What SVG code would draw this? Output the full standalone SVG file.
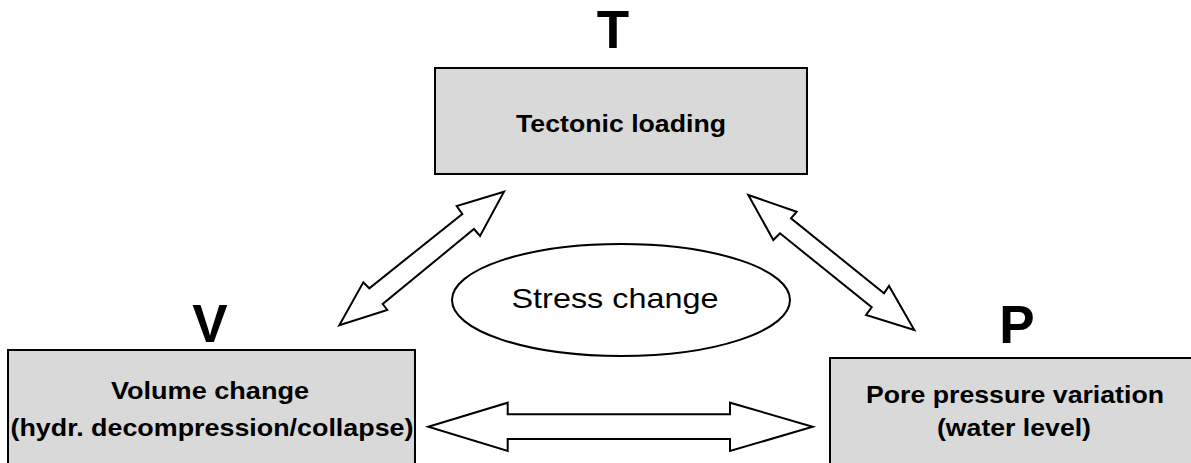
<svg xmlns="http://www.w3.org/2000/svg" width="1191" height="463" viewBox="0 0 1191 463">
<style>
.box{fill:#d9d9d9;stroke:#000;stroke-width:2}
.arr{fill:#fff;stroke:#000;stroke-width:2;stroke-linejoin:miter}
.lbl{font-family:"Liberation Sans",Arial,sans-serif;font-weight:bold;font-size:24px;fill:#000;text-anchor:middle}
.big{font-family:"Liberation Sans",Arial,sans-serif;font-weight:bold;font-size:53px;fill:#000;text-anchor:middle}
.reg{font-family:"Liberation Sans",Arial,sans-serif;font-size:28px;fill:#000;text-anchor:middle}
</style>
<rect width="1191" height="463" fill="#fff"/>
<g id="connectors">
<polygon class="arr" points="504,191.7 456.7,206 462.3,214 369.3,288.3 363.3,282.3 339.3,325.3 387.3,310 382.7,304 474,229 480,236"/>
<polygon class="arr" points="748.3,195 796.7,211.7 791,218.3 884,293.3 889,286 914.3,330 866,315 871.7,307.3 780,233.3 773.3,240"/>
<polygon class="arr" points="428.3,426.7 507.7,402.7 507.7,414.3 730,414.3 730,402.7 812.7,426.7 730,451 730,439 507.7,439 507.7,451"/>
</g>
<g id="node-T">
<text class="big" x="613" y="48">T</text>
<rect class="box" x="435" y="68" width="372" height="106"/>
<text class="lbl" x="621" y="132" textLength="210" lengthAdjust="spacingAndGlyphs">Tectonic loading</text>
</g>
<g id="node-V">
<text class="big" x="210" y="342">V</text>
<rect class="box" x="8" y="350" width="407" height="125"/>
<text class="lbl" x="210" y="399" textLength="198" lengthAdjust="spacingAndGlyphs">Volume change</text>
<text class="lbl" x="212" y="436" textLength="403" lengthAdjust="spacingAndGlyphs">(hydr. decompression/collapse)</text>
</g>
<g id="node-P">
<text class="big" x="1017" y="343">P</text>
<rect class="box" x="830" y="358" width="375" height="120"/>
<text class="lbl" x="1015" y="403" textLength="298" lengthAdjust="spacingAndGlyphs">Pore pressure variation</text>
<text class="lbl" x="1014" y="436" textLength="154" lengthAdjust="spacingAndGlyphs">(water level)</text>
</g>
<g id="node-stress">
<ellipse cx="621" cy="300" rx="169" ry="56" fill="#fff" stroke="#000" stroke-width="2"/>
<text class="reg" x="615" y="308" textLength="207" lengthAdjust="spacingAndGlyphs">Stress change</text>
</g>
</svg>
